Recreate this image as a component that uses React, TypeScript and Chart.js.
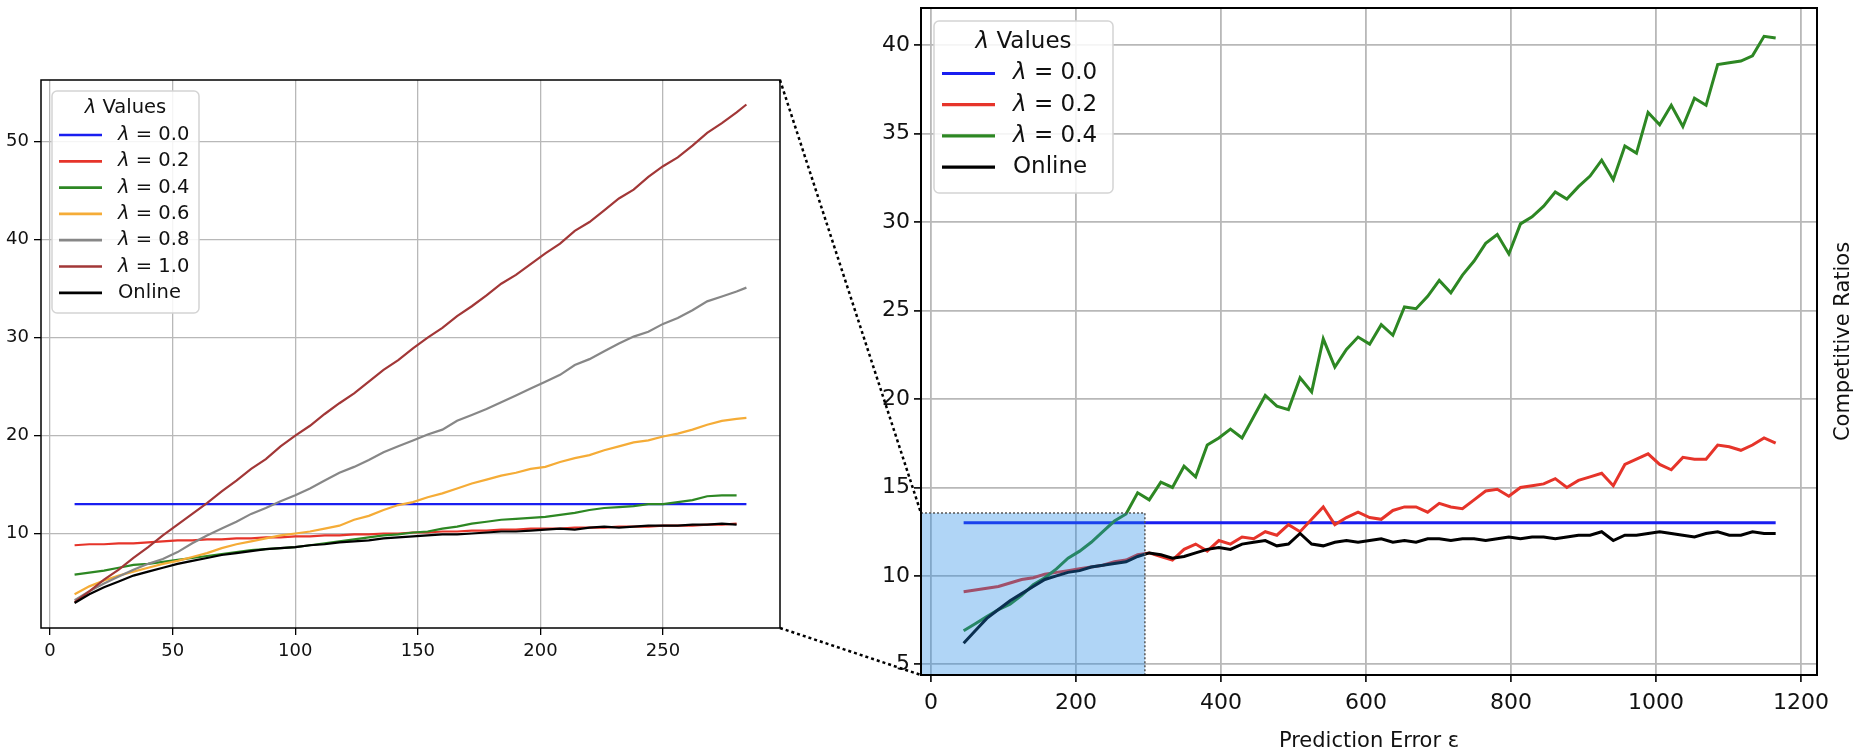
import { useEffect, useRef } from 'react';
import { Chart, registerables } from 'chart.js';

Chart.register(...registerables);
Chart.defaults.font.family = "'DejaVu Sans', sans-serif";
Chart.defaults.color = '#111';

// ---------- left panel (zoomed-in view) ----------
const leftX = [
  10, 16, 22, 28, 34, 40, 46, 52, 58, 64, 70, 76, 82, 88, 94, 100, 106, 112, 118, 124, 130, 136, 142,
  148, 154, 160, 166, 172, 178, 184, 190, 196, 202, 208, 214, 220, 226, 232, 238, 244, 250, 256, 262,
  268, 274, 280, 284,
];
const leftFlatX = [10, 284];
const leftLambda00 = [13.0, 13.0];
const leftLambda02 = [
  8.8, 8.9, 8.9, 9.0, 9.0, 9.1, 9.2, 9.3, 9.3, 9.4, 9.4, 9.5, 9.5, 9.6, 9.6, 9.7, 9.7, 9.8, 9.8, 9.9,
  9.9, 10.0, 10.0, 10.1, 10.1, 10.2, 10.2, 10.3, 10.3, 10.4, 10.4, 10.5, 10.5, 10.5, 10.6, 10.6, 10.6,
  10.7, 10.7, 10.7, 10.8, 10.8, 10.8, 10.9, 10.9, 11.0,
];
const leftLambda04 = [
  5.8, 6.0, 6.2, 6.5, 6.8, 6.9, 7.1, 7.3, 7.5, 7.7, 7.9, 8.1, 8.3, 8.4, 8.5, 8.6, 8.8, 9.0, 9.2, 9.4,
  9.6, 9.8, 9.9, 10.1, 10.2, 10.5, 10.7, 11.0, 11.2, 11.4, 11.5, 11.6, 11.7, 11.9, 12.1, 12.4, 12.6,
  12.7, 12.8, 13.0, 13.0, 13.2, 13.4, 13.8, 13.9, 13.9,
];
const leftLambda06 = [
  3.8, 4.6, 5.2, 5.7, 6.1, 6.5, 6.9, 7.2, 7.6, 8.0, 8.5, 8.9, 9.2, 9.5, 9.8, 10.0, 10.2, 10.5, 10.8,
  11.4, 11.8, 12.4, 12.9, 13.2, 13.7, 14.1, 14.6, 15.1, 15.5, 15.9, 16.2, 16.6, 16.8, 17.3, 17.7, 18.0,
  18.5, 18.9, 19.3, 19.5, 19.9, 20.2, 20.6, 21.1, 21.5, 21.7, 21.8,
];
const leftLambda08 = [
  3.2, 4.1, 4.9, 5.6, 6.3, 6.9, 7.4, 8.1, 9.0, 9.8, 10.5, 11.2, 12.0, 12.6, 13.3, 13.9, 14.6, 15.4,
  16.2, 16.8, 17.5, 18.3, 18.9, 19.5, 20.1, 20.6, 21.5, 22.1, 22.7, 23.4, 24.1, 24.8, 25.5, 26.2, 27.2,
  27.8, 28.6, 29.4, 30.1, 30.6, 31.4, 32.0, 32.8, 33.7, 34.2, 34.7, 35.1,
];
const leftLambda10 = [
  3.0, 4.1, 5.3, 6.3, 7.5, 8.6, 9.8, 10.9, 12.0, 13.1, 14.3, 15.4, 16.6, 17.6, 18.9, 20.0, 21.0, 22.2,
  23.3, 24.3, 25.5, 26.7, 27.7, 28.9, 30.0, 31.0, 32.2, 33.2, 34.3, 35.5, 36.4, 37.5, 38.6, 39.6, 40.9,
  41.8, 43.0, 44.2, 45.1, 46.4, 47.5, 48.4, 49.6, 50.9, 51.9, 53.0, 53.8,
];
const leftOnline = [
  2.9, 3.8, 4.5, 5.1, 5.7, 6.1, 6.5, 6.9, 7.2, 7.5, 7.8, 8.0, 8.2, 8.4, 8.5, 8.6, 8.8, 8.9, 9.1, 9.2,
  9.3, 9.5, 9.6, 9.7, 9.8, 9.9, 9.9, 10.0, 10.1, 10.2, 10.2, 10.3, 10.4, 10.5, 10.4, 10.6, 10.7, 10.6,
  10.7, 10.8, 10.8, 10.8, 10.9, 10.9, 11.0, 10.9,
];
const leftXTicks = [0, 50, 100, 150, 200, 250];
const leftYTicks = [10, 20, 30, 40, 50];
const leftXRange = [-3.7, 297.7];
const leftYRange = [0.35, 56.3];

// ---------- right panel (full range) ----------
const rightX = [
  45, 61, 77, 93, 109, 125, 141, 157, 173, 189, 205, 221, 237, 253, 269, 285, 301, 317, 333, 349, 365,
  381, 397, 413, 429, 445, 461, 477, 493, 509, 525, 541, 557, 573, 589, 605, 621, 637, 653, 669, 685,
  701, 717, 733, 749, 765, 781, 797, 813, 829, 845, 861, 877, 893, 909, 925, 941, 957, 973, 989, 1005,
  1021, 1037, 1053, 1069, 1085, 1101, 1117, 1133, 1149, 1165,
];
const rightFlatX = [45, 1165];
const rightLambda00 = [13.0, 13.0];
const rightLambda02 = [
  9.1, 9.2, 9.3, 9.4, 9.6, 9.8, 9.9, 10.1, 10.2, 10.3, 10.4, 10.5, 10.6, 10.8, 10.9, 11.2, 11.3, 11.1,
  10.9, 11.5, 11.8, 11.4, 12.0, 11.8, 12.2, 12.1, 12.5, 12.3, 12.9, 12.5, 13.2, 13.9, 12.9, 13.3, 13.6,
  13.3, 13.2, 13.7, 13.9, 13.9, 13.6, 14.1, 13.9, 13.8, 14.3, 14.8, 14.9, 14.5, 15.0, 15.1, 15.2, 15.5,
  15.0, 15.4, 15.6, 15.8, 15.1, 16.3, 16.6, 16.9, 16.3, 16.0, 16.7, 16.6, 16.6, 17.4, 17.3, 17.1, 17.4,
  17.8, 17.5,
];
const rightLambda04 = [
  6.9, 7.3, 7.7, 8.1, 8.4, 8.9, 9.5, 9.9, 10.4, 11.0, 11.4, 11.9, 12.5, 13.1, 13.5, 14.7, 14.3, 15.3,
  15.0, 16.2, 15.6, 17.4, 17.8, 18.3, 17.8, 19.0, 20.2, 19.6, 19.4, 21.2, 20.4, 23.4, 21.8, 22.8, 23.5,
  23.1, 24.2, 23.6, 25.2, 25.1, 25.8, 26.7, 26.0, 27.0, 27.8, 28.8, 29.3, 28.2, 29.9, 30.3, 30.9, 31.7,
  31.3, 32.0, 32.6, 33.5, 32.4, 34.3, 33.9, 36.2, 35.5, 36.6, 35.4, 37.0, 36.6, 38.9, 39.0, 39.1, 39.4,
  40.5, 40.4,
];
const rightOnline = [
  6.2, 6.9, 7.6, 8.1, 8.6, 9.0, 9.4, 9.8, 10.0, 10.2, 10.3, 10.5, 10.6, 10.7, 10.8, 11.1, 11.3, 11.2,
  11.0, 11.1, 11.3, 11.5, 11.6, 11.5, 11.8, 11.9, 12.0, 11.7, 11.8, 12.4, 11.8, 11.7, 11.9, 12.0, 11.9,
  12.0, 12.1, 11.9, 12.0, 11.9, 12.1, 12.1, 12.0, 12.1, 12.1, 12.0, 12.1, 12.2, 12.1, 12.2, 12.2, 12.1,
  12.2, 12.3, 12.3, 12.5, 12.0, 12.3, 12.3, 12.4, 12.5, 12.4, 12.3, 12.2, 12.4, 12.5, 12.3, 12.3, 12.5,
  12.4, 12.4,
];
const rightXTicks = [0, 200, 400, 600, 800, 1000, 1200];
const rightYTicks = [5, 10, 15, 20, 25, 30, 35, 40];
const rightXRange = [-13.8, 1222];
const rightYRange = [4.4, 42.1];
const rightXTitle = 'Prediction Error ε';
const rightYTitle = 'Competitive Ratios';

// highlighted region in the right panel that the left panel zooms into
const zoomBoxX = [-13.8, 295];
const zoomBoxY = [4.4, 13.55];

const legendTitle = 'λ Values';

const COLORS = {
  l00: 'rgb(25,30,240)',
  l02: 'rgb(230,52,42)',
  l04: 'rgb(45,135,35)',
  l06: 'rgb(245,172,55)',
  l08: 'rgb(135,135,135)',
  l10: 'rgb(162,55,55)',
  online: '#000',
};

const LEFT_POS = { left: 0, top: 70, width: 800, height: 610 };
const RIGHT_POS = { left: 860, top: 0, width: 1000, height: 754 };

const pts = (xs: number[], ys: number[]) => ys.map((y, i) => ({ x: xs[i], y }));

function line(label: string, xs: number[], ys: number[], color: string, width: number, order: number) {
  return {
    label,
    data: pts(xs, ys),
    borderColor: color,
    backgroundColor: color,
    borderWidth: width,
    pointRadius: 0,
    tension: 0,
    order,
  };
}

// text with an italic leading lambda, like matplotlib mathtext
function drawLambdaText(ctx: any, text: string, x: number, y: number, size: number, align: string) {
  const reg = `${size}px 'DejaVu Sans'`;
  const ita = `italic ${size}px 'DejaVu Sans'`;
  let head = '';
  let rest = text;
  if (text.startsWith('λ')) {
    head = 'λ';
    rest = text.slice(1);
  }
  ctx.font = ita;
  const w1 = head ? ctx.measureText(head).width : 0;
  ctx.font = reg;
  const w2 = ctx.measureText(rest).width;
  let sx = x;
  if (align === 'center') sx = x - (w1 + w2) / 2;
  ctx.textAlign = 'left';
  ctx.textBaseline = 'middle';
  if (head) {
    ctx.font = ita;
    ctx.fillText(head, sx, y);
  }
  ctx.font = reg;
  ctx.fillText(rest, sx + w1, y);
}

const framePlugin = {
  id: 'frame',
  afterDraw(chart: any, _args: any, opts: any) {
    const { ctx, chartArea: a } = chart;
    ctx.save();
    ctx.strokeStyle = '#000';
    ctx.lineWidth = opts.width || 1.5;
    ctx.strokeRect(a.left, a.top, a.right - a.left, a.bottom - a.top);
    ctx.restore();
  },
};

const boxLegendPlugin = {
  id: 'boxLegend',
  afterDraw(chart: any, _args: any, o: any) {
    const { ctx, chartArea: a } = chart;
    const x = a.left + o.inset;
    const y = a.top + o.inset;
    ctx.save();
    ctx.beginPath();
    if (ctx.roundRect) ctx.roundRect(x, y, o.width, o.height, 5);
    else ctx.rect(x, y, o.width, o.height);
    ctx.fillStyle = 'rgba(255,255,255,0.85)';
    ctx.fill();
    ctx.strokeStyle = '#d4d4d4';
    ctx.lineWidth = 1.5;
    ctx.stroke();
    ctx.fillStyle = '#111';
    drawLambdaText(ctx, legendTitle, x + o.width / 2, y + o.titleY, o.fontSize, 'center');
    chart.data.datasets.forEach((ds: any, i: number) => {
      const ry = y + o.firstRowY + i * o.rowH;
      ctx.beginPath();
      ctx.strokeStyle = ds.borderColor;
      ctx.lineWidth = o.lineW;
      ctx.moveTo(x + o.lineX0, ry);
      ctx.lineTo(x + o.lineX1, ry);
      ctx.stroke();
      ctx.fillStyle = '#111';
      drawLambdaText(ctx, ds.label, x + o.textX, ry, o.fontSize, 'left');
    });
    ctx.restore();
  },
};

const zoomBoxPlugin = {
  id: 'zoomBox',
  afterDatasetsDraw(chart: any) {
    const { ctx, scales } = chart;
    const x0 = scales.x.getPixelForValue(zoomBoxX[0]);
    const x1 = scales.x.getPixelForValue(zoomBoxX[1]);
    const y0 = scales.y.getPixelForValue(zoomBoxY[1]);
    const y1 = scales.y.getPixelForValue(zoomBoxY[0]);
    ctx.save();
    ctx.fillStyle = 'rgba(30,136,229,0.35)';
    ctx.fillRect(x0, y0, x1 - x0, y1 - y0);
    ctx.setLineDash([2, 2]);
    ctx.strokeStyle = '#555';
    ctx.lineWidth = 1.5;
    ctx.strokeRect(x0, y0, x1 - x0, y1 - y0);
    ctx.restore();
  },
};

const sideTitlePlugin = {
  id: 'sideTitle',
  afterDraw(chart: any, _args: any, o: any) {
    const { ctx, chartArea: a } = chart;
    ctx.save();
    ctx.translate(a.right + o.offset, (a.top + a.bottom) / 2);
    ctx.rotate(-Math.PI / 2);
    ctx.font = `${o.size}px 'DejaVu Sans'`;
    ctx.fillStyle = '#111';
    ctx.textAlign = 'center';
    ctx.textBaseline = 'middle';
    ctx.fillText(o.text, 0, 0);
    ctx.restore();
  },
};

// no label overhang padding, so the plot area follows layout.padding exactly
const noOverhang = (s: any) => {
  s.paddingTop = 0;
  s.paddingBottom = 0;
  s.paddingLeft = 0;
  s.paddingRight = 0;
};

function makeScales(c: any) {
  const grid = {
    color: '#b8b8b8',
    lineWidth: c.gridW,
    tickLength: 7,
    tickColor: '#000',
    tickWidth: c.tickW,
  };
  return {
    x: {
      type: 'linear',
      min: c.xr[0],
      max: c.xr[1],
      afterBuildTicks: (s: any) => {
        s.ticks = c.xt.map((v: number) => ({ value: v }));
      },
      afterFit: (s: any) => {
        s.height = c.xH;
        noOverhang(s);
      },
      ticks: {
        font: { size: c.font },
        padding: c.xPad,
        maxRotation: 0,
        autoSkip: false,
        callback: (v: any) => String(v),
      },
      grid,
      border: { display: false },
      title: c.xTitle
        ? { display: true, text: c.xTitle, font: { size: c.titleFont }, padding: { top: 0, bottom: 0 } }
        : { display: false },
    },
    y: {
      type: 'linear',
      min: c.yr[0],
      max: c.yr[1],
      afterBuildTicks: (s: any) => {
        s.ticks = c.yt.map((v: number) => ({ value: v }));
      },
      afterFit: (s: any) => {
        s.width = c.yW;
        noOverhang(s);
      },
      ticks: {
        font: { size: c.font },
        padding: c.yPad,
        autoSkip: false,
        callback: (v: any) => String(v),
      },
      grid,
      border: { display: false },
    },
  };
}

export default function App() {
  const leftRef = useRef<HTMLCanvasElement | null>(null);
  const rightRef = useRef<HTMLCanvasElement | null>(null);
  const overlayRef = useRef<HTMLCanvasElement | null>(null);

  useEffect(() => {
    const lw = 2.2;
    const left = new Chart(leftRef.current as HTMLCanvasElement, {
      type: 'line',
      data: {
        datasets: [
          line('λ = 0.0', leftFlatX, leftLambda00, COLORS.l00, lw, 7),
          line('λ = 0.2', leftX, leftLambda02, COLORS.l02, lw, 6),
          line('λ = 0.4', leftX, leftLambda04, COLORS.l04, lw, 5),
          line('λ = 0.6', leftX, leftLambda06, COLORS.l06, lw, 4),
          line('λ = 0.8', leftX, leftLambda08, COLORS.l08, lw, 3),
          line('λ = 1.0', leftX, leftLambda10, COLORS.l10, lw, 2),
          line('Online', leftX, leftOnline, COLORS.online, lw, 1),
        ],
      },
      options: {
        animation: false,
        responsive: false,
        events: [],
        layout: { padding: { top: 10, right: 20, left: 0, bottom: 0 } },
        scales: makeScales({
          xr: leftXRange,
          yr: leftYRange,
          xt: leftXTicks,
          yt: leftYTicks,
          font: 18,
          gridW: 1.3,
          tickW: 1.3,
          xH: 52,
          yW: 41,
          xPad: 6,
          yPad: 5,
        }),
        plugins: {
          legend: { display: false },
          tooltip: { enabled: false },
          frame: { width: 1.5 },
          boxLegend: {
            inset: 11,
            width: 147,
            height: 222,
            titleY: 17,
            firstRowY: 44,
            rowH: 26.3,
            lineX0: 7,
            lineX1: 50,
            textX: 66,
            lineW: 2.7,
            fontSize: 19.5,
          },
        },
      } as any,
      plugins: [framePlugin, boxLegendPlugin],
    });

    const rw = 3;
    const right = new Chart(rightRef.current as HTMLCanvasElement, {
      type: 'line',
      data: {
        datasets: [
          line('λ = 0.0', rightFlatX, rightLambda00, COLORS.l00, rw, 4),
          line('λ = 0.2', rightX, rightLambda02, COLORS.l02, rw, 3),
          line('λ = 0.4', rightX, rightLambda04, COLORS.l04, rw, 2),
          line('Online', rightX, rightOnline, COLORS.online, rw, 1),
        ],
      },
      options: {
        animation: false,
        responsive: false,
        events: [],
        layout: { padding: { top: 8, right: 43, left: 0, bottom: 0 } },
        scales: makeScales({
          xr: rightXRange,
          yr: rightYRange,
          xt: rightXTicks,
          yt: rightYTicks,
          font: 22,
          titleFont: 21,
          xTitle: rightXTitle,
          gridW: 1.8,
          tickW: 1.6,
          xH: 79,
          yW: 61,
          xPad: 8,
          yPad: 4,
        }),
        plugins: {
          legend: { display: false },
          tooltip: { enabled: false },
          frame: { width: 2 },
          sideTitle: { text: rightYTitle, size: 21, offset: 27 },
          boxLegend: {
            inset: 13,
            width: 179,
            height: 172,
            titleY: 21,
            firstRowY: 52.5,
            rowH: 31.2,
            lineX0: 8,
            lineX1: 61,
            textX: 79,
            lineW: 3.2,
            fontSize: 23,
          },
        },
      } as any,
      plugins: [zoomBoxPlugin, framePlugin, boxLegendPlugin, sideTitlePlugin],
    });

    // dotted connectors from the left panel's right edge to the highlighted box
    const ov = overlayRef.current as HTMLCanvasElement;
    const dpr = window.devicePixelRatio || 1;
    ov.width = 1860 * dpr;
    ov.height = 754 * dpr;
    const ctx = ov.getContext('2d') as CanvasRenderingContext2D;
    ctx.scale(dpr, dpr);
    const la = left.chartArea;
    const rx = (right.scales as any).x;
    const ry = (right.scales as any).y;
    const fromX = LEFT_POS.left + la.right;
    const toX = RIGHT_POS.left + rx.getPixelForValue(zoomBoxX[0]);
    ctx.save();
    ctx.setLineDash([3, 3]);
    ctx.strokeStyle = '#000';
    ctx.lineWidth = 2.5;
    ctx.beginPath();
    ctx.moveTo(fromX, LEFT_POS.top + la.top);
    ctx.lineTo(toX, RIGHT_POS.top + ry.getPixelForValue(zoomBoxY[1]));
    ctx.moveTo(fromX, LEFT_POS.top + la.bottom);
    ctx.lineTo(toX, RIGHT_POS.top + ry.getPixelForValue(zoomBoxY[0]));
    ctx.stroke();
    ctx.restore();

    return () => {
      left.destroy();
      right.destroy();
    };
  }, []);

  return (
    <div
      style={{
        position: 'absolute',
        left: 0,
        top: 0,
        width: 1860,
        height: 754,
        background: '#fff',
        overflow: 'hidden',
      }}
    >
      <canvas
        ref={leftRef}
        width={LEFT_POS.width}
        height={LEFT_POS.height}
        style={{ position: 'absolute', left: LEFT_POS.left, top: LEFT_POS.top }}
      />
      <canvas
        ref={rightRef}
        width={RIGHT_POS.width}
        height={RIGHT_POS.height}
        style={{ position: 'absolute', left: RIGHT_POS.left, top: RIGHT_POS.top }}
      />
      <canvas
        ref={overlayRef}
        style={{ position: 'absolute', left: 0, top: 0, width: 1860, height: 754, pointerEvents: 'none' }}
      />
    </div>
  );
}
